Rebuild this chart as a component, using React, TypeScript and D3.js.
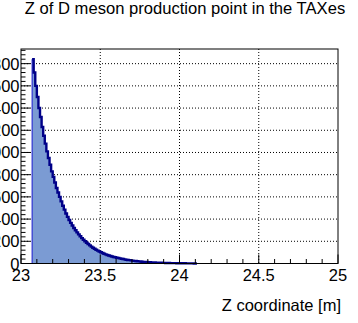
import React from "react";
import * as d3 from "d3";

// Histogram of the Z position of D meson production (bin width 0.01 m)
const binStart = 23.07;
const binWidth = 0.01;
const binCounts = [
  1840, 1720, 1600, 1500, 1400, 1320, 1230, 1150, 1080, 1010,
  950, 890, 830, 780, 730, 680, 640, 600, 560, 520,
  485, 450, 420, 392, 366, 342, 320, 300, 280, 262,
  245, 229, 214, 200, 187, 175, 163, 152, 142, 133,
  124, 116, 108, 101, 94, 88, 82, 77, 72, 67,
  63, 59, 56, 52, 49, 46, 43, 40, 37, 34,
  32, 30, 28, 26, 24, 22, 20.5, 19, 17.5, 16,
  15, 14, 13, 12, 11, 10, 9.4, 8.6, 8, 7.4,
  6.8, 6.2, 5.8, 5.3, 4.9, 4.5, 4.1, 3.8, 3.5, 3.2,
  3, 2.7, 2.5, 2.3, 2.1, 1.9, 1.7, 1.5, 1.3, 1.1,
  0.9, 0.7, 0.5, 0,
];

const xTicks = [23, 23.5, 24, 24.5, 25];
const yTicks = [0, 200, 400, 600, 800, 1000, 1200, 1400, 1600, 1800];

const W = 358;
const H = 323;
const left = 21;
const right = 338;
const top = 49;
const bottom = 263.5;

const font = "Liberation Sans, Arial, sans-serif";

export default function App() {
  const x = d3.scaleLinear().domain([23, 25]).range([left, right]);
  const y = d3.scaleLinear().domain([0, 1932]).range([bottom, top]);

  const pts: [number, number][] = binCounts.map((c, i) => [binStart + i * binWidth, c]);
  pts.push([binStart + binCounts.length * binWidth, binCounts[binCounts.length - 1]]);

  const area = d3
    .area<[number, number]>()
    .x((d) => x(d[0]))
    .y0(y(0))
    .y1((d) => y(d[1]))
    .curve(d3.curveStepAfter);
  const line = d3
    .line<[number, number]>()
    .x((d) => x(d[0]))
    .y((d) => y(d[1]))
    .curve(d3.curveStepAfter);

  const xMinor = d3.range(23, 25.0001, 0.1);
  const yMinor = d3.range(0, 1932, 40);

  return (
    <svg
      width={W}
      height={H}
      style={{ position: "absolute", left: 0, top: 0, background: "#fff" }}
    >
      <text x={185} y={14} textAnchor="middle" fontFamily={font} fontSize={16.6} fill="#000">
        Z of D meson production point in the TAXes
      </text>

      {/* grid */}
      {xTicks.slice(1, -1).map((t) => (
        <line key={"gx" + t} x1={x(t)} x2={x(t)} y1={top} y2={bottom}
          stroke="#000" strokeWidth={1} strokeDasharray="1,2" />
      ))}
      {yTicks.slice(1).map((t) => (
        <line key={"gy" + t} x1={left} x2={right} y1={y(t)} y2={y(t)}
          stroke="#000" strokeWidth={1} strokeDasharray="1,2" />
      ))}

      {/* histogram */}
      <path d={area(pts) || ""} fill="#7b9bd3" stroke="none" />
      <line x1={x(binStart)} x2={x(binStart)} y1={y(0)} y2={y(binCounts[0])}
        stroke="#1a1ad0" strokeWidth={1} />
      <path d={line(pts) || ""} fill="none" stroke="#000088" strokeWidth={2.4} />

      {/* ticks */}
      {xMinor.map((t, i) => (
        <line key={"xm" + i} x1={x(t)} x2={x(t)} y1={bottom} y2={bottom - (i % 5 === 0 ? 9 : 4.5)}
          stroke="#000" strokeWidth={1} />
      ))}
      {yMinor.map((t, i) => (
        <line key={"ym" + i} x1={left} x2={left + (i % 5 === 0 ? 9 : 4.5)} y1={y(t)} y2={y(t)}
          stroke="#000" strokeWidth={1} />
      ))}

      {/* frame */}
      <rect x={left} y={top} width={right - left} height={bottom - top}
        fill="none" stroke="#000" strokeWidth={1} />

      {/* labels */}
      {xTicks.map((t) => (
        <text key={"xl" + t} x={x(t)} y={281} textAnchor="middle"
          fontFamily={font} fontSize={16.5} fill="#000">
          {String(t)}
        </text>
      ))}
      {yTicks.map((t) => (
        <text key={"yl" + t} x={19.5} y={y(t) + 6} textAnchor="end"
          fontFamily={font} fontSize={16.5} fill="#000">
          {String(t)}
        </text>
      ))}
      <text x={341} y={311} textAnchor="end" fontFamily={font} fontSize={16.5} fill="#000">
        Z coordinate [m]
      </text>
    </svg>
  );
}
